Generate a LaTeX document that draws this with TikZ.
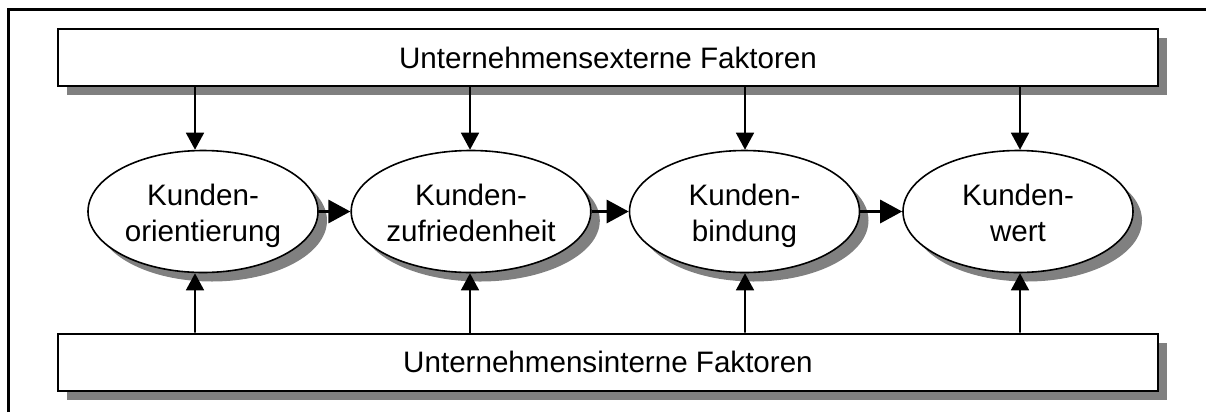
\documentclass[tikz,border=0pt]{standalone}
\usepackage{fontspec}
\setmainfont{Liberation Sans}
\usetikzlibrary{arrows.meta,shapes.geometric,shadows}
\definecolor{shadowgray}{HTML}{808080}
% two-line label with fixed vertical extent, so all baselines line up
\newcommand\stagelines[2]{\rule{0pt}{24bp}#1\\\smash{#2}}
\tikzset{
  factorbox/.style={draw=black, line width=2bp, fill=white, rectangle,
    minimum width=1100bp, minimum height=57bp, inner sep=0pt,
    general shadow={fill=shadowgray, shadow xshift=9bp, shadow yshift=-9bp},
    font=\fontsize{29.7}{37}\selectfont},
  stage/.style={draw=black, line width=1.6bp, fill=white, ellipse,
    minimum width=230bp, minimum height=122bp, inner sep=0pt, align=center,
    general shadow={fill=shadowgray, shadow xshift=9bp, shadow yshift=-9bp},
    font=\fontsize{29.7}{37}\selectfont},
  influence/.style={line width=1.6bp, -{Triangle[length=17bp,width=18bp]}},
  chain/.style={line width=3bp, -{Triangle[length=22bp,width=23bp]}},
  frame/.style={line width=3bp}
}
\begin{document}
\begin{tikzpicture}[x=1bp,y=-1bp]
  \useasboundingbox (0,0) rectangle (1206,412);
  % partial outer frame
  \draw[frame] (8,412) -- (8,9) -- (1206,9);

  % factor boxes
  \node[factorbox] (ext) at (608,57.5) {Unternehmensexterne Faktoren};
  \node[factorbox] (int) at (608,362) {Unternehmensinterne Faktoren};

  % customer chain
  \node[stage] (e1) at (203,211.5) {\stagelines{Kunden-}{orientierung}};
  \node[stage] (e2) at (471,211.5) {\stagelines{Kunden-}{zufriedenheit}};
  \node[stage] (e3) at (744.5,211.5) {\stagelines{Kunden-}{bindung}};
  \node[stage] (e4) at (1018,211.5) {\stagelines{Kunden-}{wert}};

  \draw[chain] (e1.east) -- (e2.west);
  \draw[chain] (e2.east) -- (e3.west);
  \draw[chain] (e3.east) -- (e4.west);

  % external influences
  \draw[influence] (ext.south -| 195,0) -- ([xshift=-8bp]e1.north);
  \draw[influence] (ext.south -| 470,0) -- ([xshift=-1bp]e2.north);
  \draw[influence] (ext.south -| 745,0) -- ([xshift=0.5bp]e3.north);
  \draw[influence] (ext.south -| 1020,0) -- ([xshift=2bp]e4.north);

  % internal influences
  \draw[influence] (int.north -| 195,0) -- ([xshift=-8bp]e1.south);
  \draw[influence] (int.north -| 470,0) -- ([xshift=-1bp]e2.south);
  \draw[influence] (int.north -| 745,0) -- ([xshift=0.5bp]e3.south);
  \draw[influence] (int.north -| 1020,0) -- ([xshift=2bp]e4.south);
\end{tikzpicture}
\end{document}
